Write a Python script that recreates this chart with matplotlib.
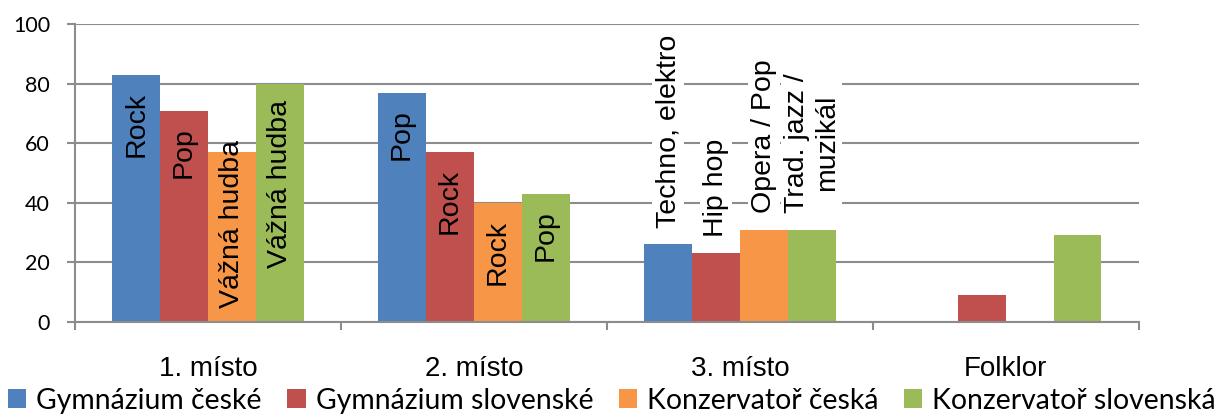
import matplotlib
matplotlib.use("Agg")
import matplotlib.pyplot as plt
import numpy as np

kategorie = ['1. místo', '2. místo', '3. místo', 'Folklor']
serie = ['Gymnázium české', 'Gymnázium slovenské', 'Konzervatoř česká', 'Konzervatoř slovenská']

gym_cz = [83, 77, 26, 0]
gym_sk = [71, 57, 23, 9]
kon_cz = [57, 40, 31, 0]
kon_sk = [80, 43, 31, 29]

popisky_gym_cz = ['Rock', 'Pop', 'Techno, elektro', '']
popisky_gym_sk = ['Pop', 'Rock', 'Hip hop', '']
popisky_kon_cz = ['Vážná hudba', 'Rock', 'Opera / Pop', '']
popisky_kon_sk = ['Vážná hudba', 'Pop', 'Trad. jazz /\nmuzikál', '']

barvy = ['#4F81BD', '#C0504D', '#F79646', '#9BBB59']
sediva = '#8C8C8C'

hodnoty = [gym_cz, gym_sk, kon_cz, kon_sk]
popisky = [popisky_gym_cz, popisky_gym_sk, popisky_kon_cz, popisky_kon_sk]

fig = plt.figure(figsize=(12.24, 4.15), dpi=100)
ax = fig.add_axes([0.0613, 0.2248, 0.869, 0.7166])

x = np.arange(len(kategorie))
sirka = 0.18
posuny = [-1.5 * sirka, -0.5 * sirka, 0.5 * sirka, 1.5 * sirka]

sloupce = []
for i in range(4):
    b = ax.bar(x + posuny[i], hodnoty[i], sirka, color=barvy[i], label=serie[i], zorder=2)
    sloupce.append(b)

ax.set_xlim(-0.5, len(kategorie) - 0.5)
ax.set_ylim(0, 100)
ax.set_yticks(range(0, 101, 20))
ax.yaxis.grid(True, color=sediva, linewidth=1.5, zorder=0)
ax.set_axisbelow(True)

for s in ['top', 'right']:
    ax.spines[s].set_visible(False)
for s in ['left', 'bottom']:
    ax.spines[s].set_color(sediva)
    ax.spines[s].set_linewidth(1.5)

ax.set_xticks(x)
ax.set_xticklabels(kategorie, family='Liberation Sans', fontsize=20)
ax.set_xticks(np.arange(-0.5, len(kategorie)), minor=True)
ax.tick_params(axis='x', which='major', length=0, pad=25)
ax.tick_params(axis='x', which='minor', length=6, width=1.5, color=sediva)
ax.tick_params(axis='y', length=6, width=1.5, color=sediva, pad=12)
for t in ax.get_yticklabels():
    t.set_family('Lato')
    t.set_fontsize(15.5)

# popisky v sloupcich
renderer = fig.canvas.get_renderer()
px_na_jednotku = ax.transData.transform((0, 1))[1] - ax.transData.transform((0, 0))[1]
for i in range(4):
    for j in range(len(kategorie)):
        text = popisky[i][j]
        if not text:
            continue
        v = hodnoty[i][j]
        xx = x[j] + posuny[i]
        t = ax.annotate(text, (xx, v), xytext=(0, -12), textcoords='offset points',
                        rotation=90, ha='center', va='top', multialignment='center',
                        family='Liberation Sans', fontsize=20.5, zorder=3)
        delka = t.get_window_extent(renderer).height
        vyska = v * px_na_jednotku
        if delka <= vyska - 30:
            continue
        t.remove()
        if delka <= vyska * 1.2:
            ax.annotate(text, (xx, 0), xytext=(0, 10), textcoords='offset points',
                        rotation=90, ha='center', va='bottom', multialignment='center',
                        family='Liberation Sans', fontsize=20.5, zorder=3)
        else:
            ax.annotate(text, (xx, v), xytext=(0, 12), textcoords='offset points',
                        rotation=90, ha='center', va='bottom', multialignment='center',
                        family='Liberation Sans', fontsize=20.5, zorder=3,
                        bbox=dict(boxstyle='square,pad=0.1', fc='white', ec='none'))

fig.legend(handles=sloupce, labels=serie, loc='lower center', bbox_to_anchor=(0.5, 0.0),
           ncol=4, frameon=False, handlelength=0.65, handleheight=0.65,
           handletextpad=0.35, columnspacing=0.9, borderaxespad=0, borderpad=0.05,
           prop={'family': 'Lato', 'size': 20.4})

fig.savefig('out.png', dpi=100)
